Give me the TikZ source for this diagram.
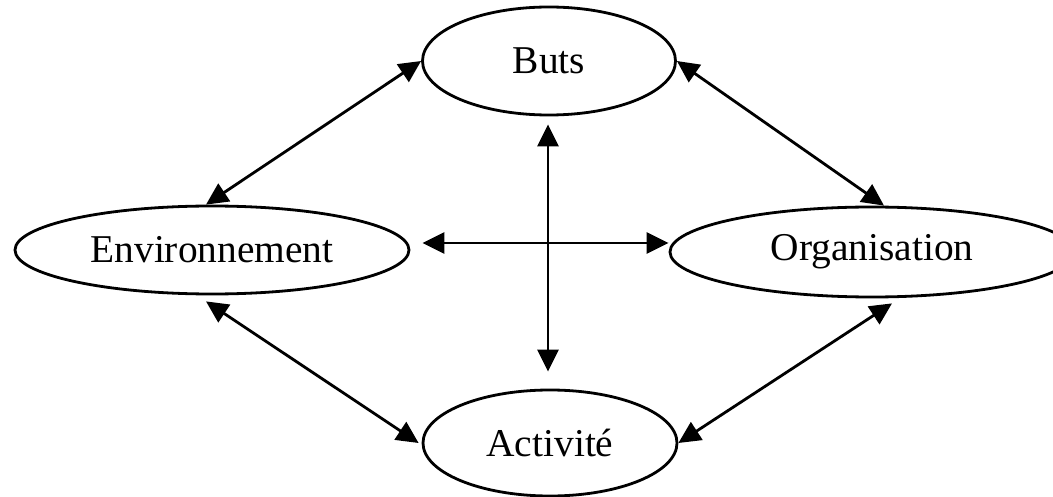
\documentclass[tikz,border=0pt]{standalone}
\usepackage{fontspec}
\setmainfont{Liberation Serif}
\usetikzlibrary{shapes.geometric,arrows.meta}
\tikzset{
  oval/.style={draw, ellipse, line width=2.8pt, inner sep=0pt,
    font=\fontsize{39.4}{47}\selectfont},
  link/.style={line width=2.8pt,
    {Triangle[length=22pt,width=21pt]}-{Triangle[length=22pt,width=21pt]}}
}
\begin{document}
\begin{tikzpicture}[x=1pt,y=-1pt]
\useasboundingbox (0,0) rectangle (1053,497);
\clip (0,0) rectangle (1053,497);
\node[oval, minimum width=253pt, minimum height=108pt] (buts) at (549,61) {Buts};
\node[oval, minimum width=394pt, minimum height=88pt] (env) at (212,250) {Environnement};
\node[oval, minimum width=404pt, minimum height=90pt] (org) at (872,252) {Organisation};
\node[oval, minimum width=254pt, minimum height=106pt] (act) at (550,443) {Activit\'e};
\draw[link] (buts.west) -- ([xshift=-6pt]env.north);
\draw[link] (buts.east) -- ([xshift=12pt]org.north);
\draw[link] ([xshift=-6pt,yshift=-6pt]env.south) -- ([xshift=-3pt]act.west);
\draw[link] ([xshift=20pt,yshift=-5pt]org.south) -- (act.east);
\draw[link] ([xshift=12pt,yshift=7pt]env.east) -- ([yshift=9pt]org.west);
\draw[link] ([xshift=-1pt,yshift=-8pt]buts.south) -- ([xshift=-2pt,yshift=17pt]act.north);
\end{tikzpicture}
\end{document}
